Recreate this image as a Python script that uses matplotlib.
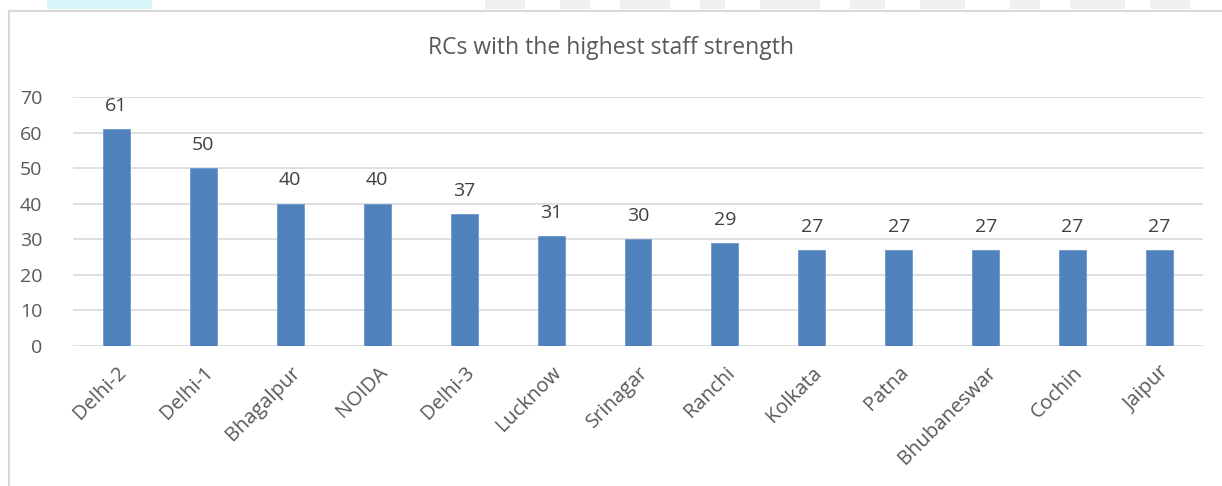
import matplotlib.pyplot as plt
from matplotlib.patches import Rectangle
from matplotlib.lines import Line2D

# ── data ──────────────────────────────────────────────────────────────────────
centres = ["Delhi-2", "Delhi-1", "Bhagalpur", "NOIDA", "Delhi-3", "Lucknow",
           "Srinagar", "Ranchi", "Kolkata", "Patna", "Bhubaneswar", "Cochin",
           "Jaipur"]
staff = [61, 50, 40, 40, 37, 31, 30, 29, 27, 27, 27, 27, 27]
yticks = [0, 10, 20, 30, 40, 50, 60, 70]

plt.rcParams["font.family"] = ["Open Sans", "DejaVu Sans"]

W, H = 1222, 486
fig = plt.figure(figsize=(W / 100, H / 100), dpi=100)

# chart frame (light border, screenshot cut on the right)
fig.add_artist(Line2D([9 / W, 9 / W], [0, 1 - 11 / H], color="#d9d9d9", lw=1.5))
fig.add_artist(Line2D([9 / W, 1], [1 - 11 / H, 1 - 11 / H], color="#d9d9d9", lw=1.5))
# faint screenshot leftovers along the top edge
fig.add_artist(Rectangle((47 / W, 1 - 9 / H), 105 / W, 9 / H,
                         transform=fig.transFigure, color="#d6f6fa", lw=0))
for x0, w0 in [(485, 40), (560, 30), (620, 50), (700, 25), (760, 60),
               (850, 35), (920, 45), (1010, 30), (1070, 55), (1150, 40)]:
    fig.add_artist(Rectangle((x0 / W, 1 - 9 / H), w0 / W, 9 / H,
                             transform=fig.transFigure, color="#f0f0f0", lw=0))

ax = fig.add_axes([73 / W, 1 - 346 / H, 1130 / W, 249 / H])
x = range(len(centres))
ax.bar(x, staff, width=0.31, color="#4f81bd", edgecolor="#6f98cc", lw=0.6,
       zorder=3)
for xi, v in zip(x, staff):
    ax.text(xi, v + 4.0, str(v), ha="center", va="bottom", fontsize=14,
            color="#404040")

ax.set_xlim(-0.5, len(centres) - 0.5)
ax.set_ylim(0, 70)
ax.set_yticks(yticks)
ax.yaxis.grid(True, color="#d9d9d9", lw=1.2, zorder=0)
ax.set_axisbelow(True)
for s in ax.spines.values():
    s.set_visible(False)
ax.tick_params(length=0)
ax.tick_params(axis="y", labelsize=14, labelcolor="#595959", pad=22)
ax.set_xticks(list(x))
ax.set_xticklabels(centres, rotation=45, ha="right", rotation_mode="anchor",
                   fontsize=14.5, color="#595959")
ax.tick_params(axis="x", pad=12)

fig.text(0.5, 1 - 48 / H, "RCs with the highest staff strength", ha="center",
         va="center", fontsize=16.5, color="#595959")

fig.savefig("out.png", dpi=100)
